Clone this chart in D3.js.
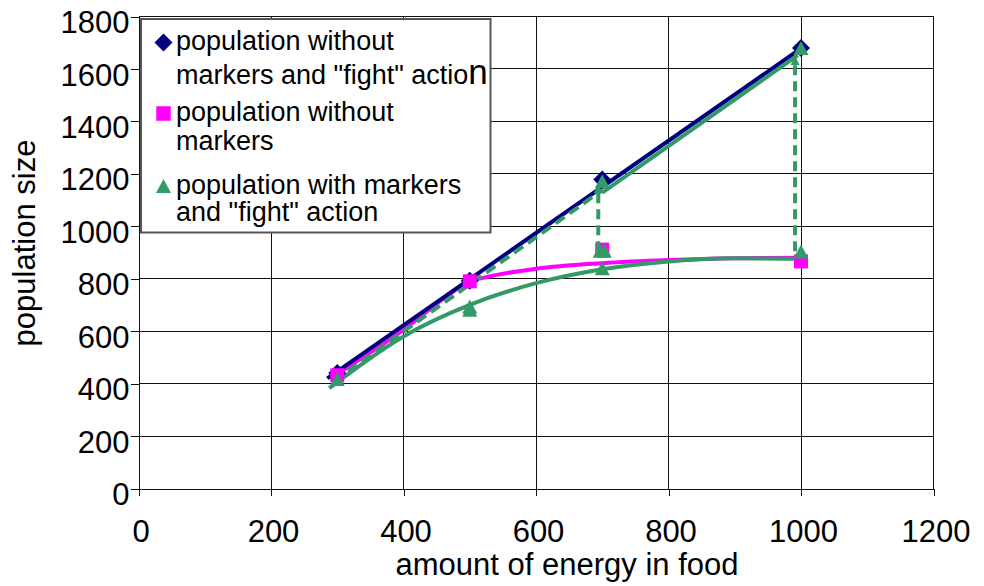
<!DOCTYPE html>
<html>
<head>
<meta charset="utf-8">
<script src="https://cdn.jsdelivr.net/npm/d3@7"></script>
<style>
  html, body { margin: 0; padding: 0; background: #fff; }
  svg { display: block; font-family: "Liberation Sans", Arial, sans-serif; }
</style>
</head>
<body>
<svg id="chart" width="984" height="586"></svg>
<script>
// ---- axis ticks ----
const xTicks = [0, 200, 400, 600, 800, 1000, 1200];
const yTicks = [0, 200, 400, 600, 800, 1000, 1200, 1400, 1600, 1800];

// ---- measured populations (markers) ----
const energyLevels   = [300, 500, 700, 1000];
const popNoMarkersFight = [440, 792, 1178, 1680];  // diamonds
const popNoMarkers      = [432, 790, 911, 866];    // squares
// triangles: several runs share an energy level
const popWithMarkersEnergy = [300, 500, 500, 697, 703, 700, 700, 1000, 1000];
const popWithMarkersValue  = [418, 682, 694, 907, 907, 840, 1172, 904, 1680];

// ---- fitted curves ----
const fitNoMarkersFightEnergy = [285, 1000];
const fitNoMarkersFightValue  = [420, 1678];
const fitNoMarkersEnergy = [290, 400, 470, 495, 525, 600, 700, 800, 900, 1000];
const fitNoMarkersValue  = [422, 605, 742, 785, 806, 838, 859, 871, 878, 880];
const fitWithMarkersEnergy = [288, 400, 500, 600, 700, 800, 900, 1000];
const fitWithMarkersValue  = [383, 580, 700, 783, 836, 866, 878, 876];
// upper branch of the "with markers" population: dashed, then solid
const climbDashedEnergy = [295, 700];
const climbDashedValue  = [410, 1138];
const climbSolidEnergy  = [700, 995];
const climbSolidValue   = [1128, 1652];

// ---- jumps caused by the "fight" action (dashed arrows) ----
const jumpEnergy = [694, 991];
const jumpFrom   = [905, 905];
const jumpTo     = [1160, 1649];

// ---- legend ----
const legendLines = [
  ["population without", "markers and \"fight\" actio"],
  ["population without", "markers"],
  ["population with markers", "and \"fight\" action"]
];

const NAVY = "#000080", MAGENTA = "#ff00ff", GREEN = "#339966";

const svg = d3.select("#chart");
const x = d3.scaleLinear().domain([0, 1200]).range([138.5, 933.5]);
const y = d3.scaleLinear().domain([0, 1800]).range([488.5, 16.5]);

const zip = (a, b) => a.map((v, i) => [v, b[i]]);

// grid
const grid = svg.append("g").attr("stroke", "#111").attr("stroke-width", 1)
  .attr("shape-rendering", "crispEdges");
grid.selectAll("line.h").data(yTicks.filter(d => d > 0)).join("line")
  .attr("class", "h")
  .attr("x1", x(0)).attr("x2", x(1200))
  .attr("y1", d => y(d)).attr("y2", d => y(d));
grid.selectAll("line.v").data(xTicks.filter(d => d > 0)).join("line")
  .attr("class", "v")
  .attr("x1", d => x(d)).attr("x2", d => x(d))
  .attr("y1", y(0)).attr("y2", y(1800));

// axes
const fmt = d3.format("d");
const yAxis = svg.append("g").attr("transform", `translate(${x(0)},0)`)
  .call(d3.axisLeft(y).tickValues(yTicks).tickFormat(fmt)
    .tickSize(8).tickSizeOuter(0).tickPadding(1));
const xAxis = svg.append("g").attr("transform", `translate(0,${y(0)})`)
  .call(d3.axisBottom(x).tickValues(xTicks).tickFormat(fmt)
    .tickSize(7).tickSizeOuter(0).tickPadding(24));
[xAxis, yAxis].forEach(g => {
  g.selectAll("path.domain").attr("stroke", "#111").attr("shape-rendering", "crispEdges");
  g.selectAll(".tick line").attr("stroke", "#111").attr("shape-rendering", "crispEdges");
  g.selectAll("text").attr("font-size", 31).attr("fill", "#000")
    .attr("font-family", "'Liberation Sans', Arial, sans-serif");
});
yAxis.selectAll("text").attr("dy", "0.52em");
xAxis.selectAll("text").attr("dx", 2);

// axis titles
svg.append("text")
  .attr("x", 567).attr("y", 575)
  .attr("text-anchor", "middle").attr("font-size", 31)
  .text("amount of energy in food");
svg.append("text")
  .attr("transform", "translate(35,243) rotate(-90)")
  .attr("text-anchor", "middle").attr("font-size", 31)
  .text("population size");

// curves
const line = d3.line().x(d => x(d[0])).y(d => y(d[1]));
const smooth = d3.line().x(d => x(d[0])).y(d => y(d[1])).curve(d3.curveMonotoneX);
const curves = svg.append("g").attr("fill", "none").attr("stroke-width", 4);

curves.append("path").attr("d", smooth(zip(fitNoMarkersEnergy, fitNoMarkersValue)))
  .attr("stroke", MAGENTA);
curves.append("path").attr("d", line(zip(fitNoMarkersFightEnergy, fitNoMarkersFightValue)))
  .attr("stroke", NAVY);
curves.append("path").attr("d", line(zip(climbDashedEnergy, climbDashedValue)))
  .attr("stroke", GREEN).attr("stroke-dasharray", "11,6");
curves.append("path").attr("d", line(zip(climbSolidEnergy, climbSolidValue)))
  .attr("stroke", GREEN);
curves.append("path").attr("d", smooth(zip(fitWithMarkersEnergy, fitWithMarkersValue)))
  .attr("stroke", GREEN);

// marker shapes
const diamond = (cx, cy, r) => `M${cx},${cy - r}L${cx + r},${cy}L${cx},${cy + r}L${cx - r},${cy}Z`;
const square = (cx, cy, s) => `M${cx - s / 2},${cy - s / 2}h${s}v${s}h${-s}Z`;
const triangle = (cx, cy, w, h) =>
  `M${cx},${cy - h / 2}L${cx + w / 2},${cy + h / 2}L${cx - w / 2},${cy + h / 2}Z`;

const marks = svg.append("g");
marks.selectAll("path.dia").data(zip(energyLevels, popNoMarkersFight)).join("path")
  .attr("class", "dia").attr("fill", NAVY)
  .attr("d", d => diamond(x(d[0]), y(d[1]), 9));
marks.selectAll("path.sq").data(zip(energyLevels, popNoMarkers)).join("path")
  .attr("class", "sq").attr("fill", MAGENTA)
  .attr("d", d => square(x(d[0]), y(d[1]), 14));

// dashed jump arrows
const arrows = svg.append("g");
jumpEnergy.forEach((e, i) => {
  const ax = x(e), tip = y(jumpTo[i]);
  arrows.append("line")
    .attr("x1", ax).attr("x2", ax)
    .attr("y1", y(jumpFrom[i])).attr("y2", tip + 7)
    .attr("stroke", GREEN).attr("stroke-width", 4).attr("stroke-dasharray", "10,6");
  arrows.append("path")
    .attr("d", `M${ax},${tip}L${ax + 4.5},${tip + 9}L${ax - 4.5},${tip + 9}Z`)
    .attr("fill", GREEN);
});

marks.append("g").selectAll("path").data(zip(popWithMarkersEnergy, popWithMarkersValue)).join("path")
  .attr("fill", GREEN)
  .attr("d", d => triangle(x(d[0]), y(d[1]), 15, 14));

// legend
const lg = svg.append("g");
lg.append("rect")
  .attr("x", 141).attr("y", 19).attr("width", 349.5).attr("height", 213.5)
  .attr("fill", "#fff").attr("stroke", "#555").attr("stroke-width", 2);
lg.append("path").attr("d", diamond(163.5, 42.5, 9)).attr("fill", NAVY);
lg.append("path").attr("d", square(163.5, 113.5, 14.5)).attr("fill", MAGENTA);
lg.append("path").attr("d", triangle(163.5, 186, 15, 14)).attr("fill", GREEN);

const legendBaselines = [[49.5, 83.5], [120.5, 149.5], [193.5, 221]];
legendLines.forEach((lines, i) => {
  lines.forEach((txt, j) => {
    const t = lg.append("text")
      .attr("x", 176).attr("y", legendBaselines[i][j])
      .attr("font-size", 27).attr("fill", "#000")
      .text(txt);
    if (i === 0 && j === 1) t.append("tspan").attr("font-size", 35).text("n");
  });
});
</script>
</body>
</html>
